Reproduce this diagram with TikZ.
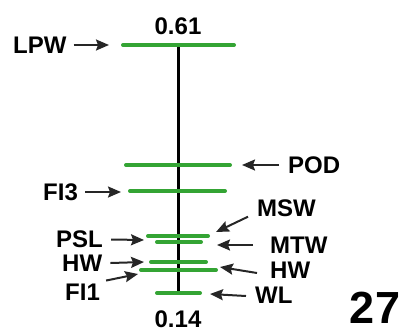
\documentclass[tikz,border=0pt]{standalone}
\usepackage{fontspec}
\setmainfont{Liberation Sans}
\usetikzlibrary{positioning,arrows.meta}

\definecolor{bargreen}{RGB}{52,164,52}

\begin{document}
\begin{tikzpicture}[x=1pt, y=-1pt,
        bar/.style={draw=bargreen, line width=4pt, line cap=round},
        pointer/.style={-{Stealth[length=13pt,width=11pt,inset=2pt]}, line width=2pt, black!85},
        lbl/.style={inner sep=0pt, font=\fontsize{24}{24}\selectfont\bfseries}]
        \useasboundingbox (0, 0) rectangle (403, 335);
        \def\axisx{178}

        % bars
        \coordinate (lpwL) at (123, 45);  \coordinate (lpwR) at (234, 45);
        \coordinate (podL) at (126, 165); \coordinate (podR) at (230, 165);
        \coordinate (fiiiL) at (130, 191); \coordinate (fiiiR) at (225, 191);
        \coordinate (pslL) at (148, 236); \coordinate (pslR) at (208, 236);
        \coordinate (mtwL) at (157, 242); \coordinate (mtwR) at (201, 242);
        \coordinate (hwaL) at (151, 262); \coordinate (hwaR) at (206, 262);
        \coordinate (hwbL) at (141, 270); \coordinate (hwbR) at (216, 270);
        \coordinate (wlL) at (157, 293);  \coordinate (wlR) at (200, 293);

        \draw[line width=3pt] (\axisx, 45) coordinate (top) -- (\axisx, 293) coordinate (bot);

        \draw[bar] (lpwL) -- (lpwR);
        \draw[bar] (podL) -- (podR);
        \draw[bar] (fiiiL) -- (fiiiR);
        \draw[bar] (pslL) -- (pslR);
        \draw[bar] (mtwL) -- (mtwR);
        \draw[bar] (hwaL) -- (hwaR);
        \draw[bar] (hwbL) -- (hwbR);
        \draw[bar] (wlL) -- (wlR);

        % values
        \node[lbl, above=10pt of top] (vtop) {0.61};
        \node[lbl, below=18pt of bot] (vbot) {0.14};
        \node[inner sep=0pt, font=\fontsize{45}{45}\selectfont\bfseries] (num) at (375, 308) {27};

        % labels
        \node[lbl, anchor=west] (lpw) at (13, 45) {LPW};
        \node[lbl, anchor=west] (pod) at (288, 165) {POD};
        \node[lbl, anchor=west] (fiii) at (43, 192) {FI3};
        \node[lbl, anchor=west] (msw) at (257, 208) {MSW};
        \node[lbl, anchor=west] (psl) at (56, 239.5) {PSL};
        \node[lbl, anchor=west] (mtw) at (270, 245) {MTW};
        \node[lbl, anchor=west] (hwa) at (62, 263) {HW};
        \node[lbl, anchor=west] (hwb) at (270, 270) {HW};
        \node[lbl, anchor=west] (fii) at (65, 292) {FI1};
        \node[lbl, anchor=west] (wl) at (255, 295) {WL};

        % arrow tips
        \coordinate (tlpw) at (109, 45);
        \coordinate (tpod) at (242, 165);
        \coordinate (tfiii) at (121, 192);
        \coordinate (tmsw) at (216, 232);
        \coordinate (tpsl) at (144, 240);
        \coordinate (tmtw) at (217, 245);
        \coordinate (thwa) at (144, 262);
        \coordinate (thwb) at (220, 267);
        \coordinate (tfii) at (138, 274);
        \coordinate (twl) at (210, 294);

        \draw[pointer] (lpw.east) ++(7pt, 0) -- (tlpw);
        \draw[pointer] (pod.west) ++(-9pt, 0) -- (tpod);
        \draw[pointer] (fiii.east) ++(7pt, 0) -- (tfiii);
        \draw[pointer] (msw.south west) ++(-9pt, 0) -- (tmsw);
        \draw[pointer] (psl.east) ++(8pt, 0) -- (tpsl);
        \draw[pointer] (mtw.west) ++(-17pt, 0) -- (tmtw);
        \draw[pointer] (hwa.east) ++(8pt, 0) -- (thwa);
        \draw[pointer] (hwb.west) ++(-13pt, -3pt) -- (thwb);
        \draw[pointer] (fii.north east) ++(6pt, 3pt) -- (tfii);
        \draw[pointer] (wl.west) ++(-9pt, -1pt) -- (twl);
\end{tikzpicture}
\end{document}
